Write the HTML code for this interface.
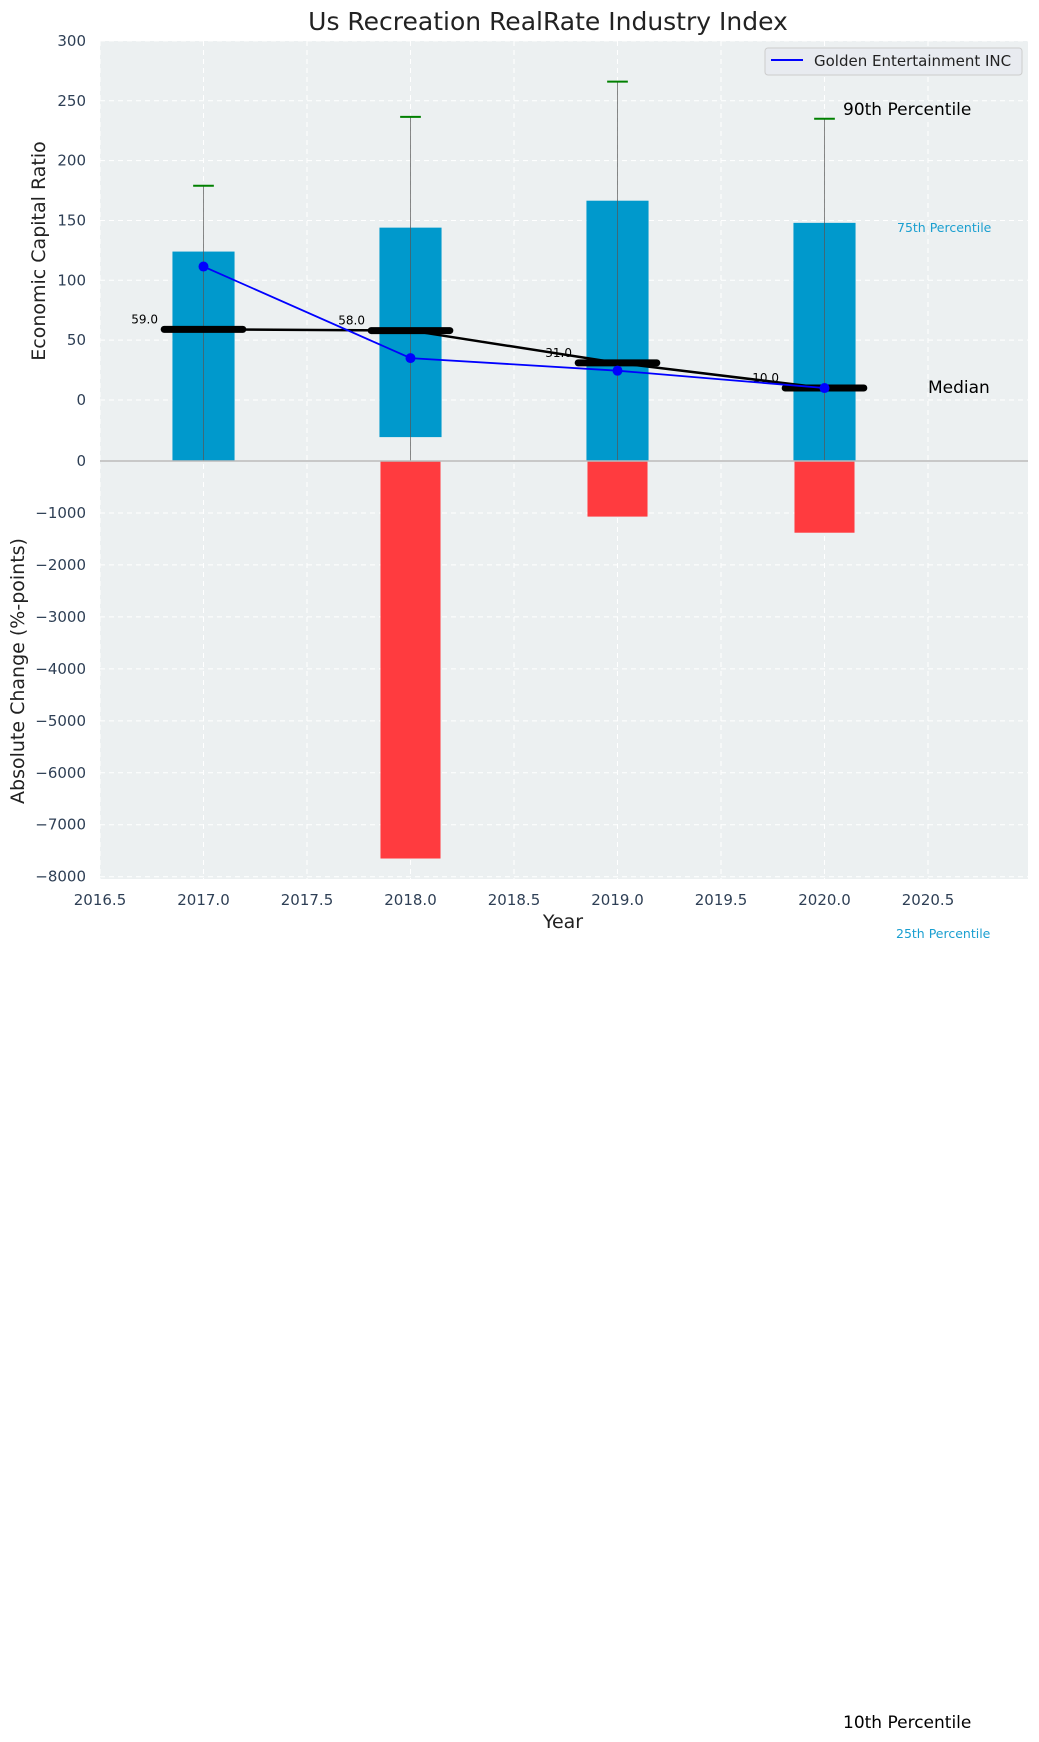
<!DOCTYPE html>
<html><head><meta charset="utf-8"><style>
body{margin:0;background:#fff}
svg{display:block;font-family:"DejaVu Sans","Liberation Sans",sans-serif}
</style></head><body>
<svg id="chart" width="1039" height="1742" viewBox="0 0 1039 1742"></svg>
<script>
const years=[2017,2018,2019,2020];
const q75=[124,144,166.5,148];
const q25=[-60,-31,-60,-60];
const p90=[179,236.5,266,235];
const medians=[59,58,31,10];
const company=[111.5,35,24.5,10];
const absChange=[0,-7650,-1070,-1380];
const xTicks=[2016.5,2017.0,2017.5,2018.0,2018.5,2019.0,2019.5,2020.0,2020.5];
const yTopTicks=[0,50,100,150,200,250,300];
const yBotTicks=[0,-1000,-2000,-3000,-4000,-5000,-6000,-7000,-8000];

const NS="http://www.w3.org/2000/svg";
const svg=document.getElementById('chart');
const L=100,R=1028,T1=41,B1=461,T2=461,B2=879;
const X=v=>L+(v-2016.5)*207;
const Y1=v=>400-v*1.197;
const Y2=v=>461-v*(415.7/8000);
function mk(tag,attrs,parent){const e=document.createElementNS(NS,tag);for(const k in attrs)e.setAttribute(k,attrs[k]);(parent||svg).appendChild(e);return e;}

const defs=mk('defs',{});
const c1=mk('clipPath',{id:'c1'},defs);mk('rect',{x:L,y:T1,width:R-L,height:B1-T1},c1);
const c2=mk('clipPath',{id:'c2'},defs);mk('rect',{x:L,y:T2,width:R-L,height:B2-T2},c2);

let e;
e=mk('rect',{x:L,y:T1,width:R-L,height:B2-T1,fill:'#ecf0f1'});



xTicks.forEach(t=>{e=mk('line',{x1:X(t),x2:X(t),y1:T1,y2:B2,stroke:'#fff','stroke-dasharray':'5,4','stroke-width':1});

});
yTopTicks.forEach(t=>{e=mk('line',{x1:L,x2:R,y1:Y1(t),y2:Y1(t),stroke:'#fff','stroke-dasharray':'5,4'});

});
yBotTicks.forEach(t=>{e=mk('line',{x1:L,x2:R,y1:Y2(t),y2:Y2(t),stroke:'#fff','stroke-dasharray':'5,4'});

});

const g1=mk('g',{'clip-path':'url(#c1)'});
const g2=mk('g',{'clip-path':'url(#c2)'});
years.forEach((yr,i)=>{
  e=mk('rect',{x:X(yr-0.15),y:Y1(q75[i]),width:X(yr+0.15)-X(yr-0.15),height:Y1(q25[i])-Y1(q75[i]),fill:'#0099cc'},g1);
  
  
  e=mk('line',{x1:X(yr),x2:X(yr),y1:Y1(p90[i]),y2:Y1(-60),stroke:'#555','stroke-opacity':0.7,'stroke-width':1},g1);
  
  
  e=mk('line',{x1:X(yr-0.05),x2:X(yr+0.05),y1:Y1(p90[i]),y2:Y1(p90[i]),stroke:'#008000','stroke-width':2},g1);
  
  
  if(absChange[i]<0){
    e=mk('rect',{x:X(yr-0.145),y:Y2(0),width:X(yr+0.145)-X(yr-0.145),height:Y2(absChange[i])-Y2(0),fill:'#ff3b3f'},g2);
    
    
  }
});
e=mk('line',{x1:L,x2:R,y1:B1,y2:B1,stroke:'#bbb','stroke-width':1.5});



e=mk('polyline',{points:years.map((y,i)=>X(y)+','+Y1(medians[i])).join(' '),fill:'none',stroke:'#000','stroke-width':2.5});


years.forEach((yr,i)=>{
  e=mk('line',{x1:X(yr-0.19),x2:X(yr+0.19),y1:Y1(medians[i]),y2:Y1(medians[i]),stroke:'#000','stroke-width':7,'stroke-linecap':'round'});
  
  
  e=mk('text',{x:X(yr-0.22),y:Y1(medians[i])-6,'font-size':12,'text-anchor':'end',fill:'#000'});
  e.textContent=medians[i].toFixed(1);
  
  
});
e=mk('polyline',{points:years.map((y,i)=>X(y)+','+Y1(company[i])).join(' '),fill:'none',stroke:'#0000ff','stroke-width':1.8});


years.forEach((yr,i)=>{e=mk('circle',{cx:X(yr),cy:Y1(company[i]),r:5,fill:'#0000ff'});

});

yTopTicks.forEach(t=>{e=mk('text',{x:L-14,y:Y1(t)+5,'font-size':15,'text-anchor':'end',fill:'#2e3f55'});e.textContent=t;

});
yBotTicks.forEach(t=>{e=mk('text',{x:L-14,y:Y2(t)+5,'font-size':15,'text-anchor':'end',fill:'#2e3f55'});e.textContent=t===0?'0':'\u2212'+Math.abs(t);

});
xTicks.forEach(t=>{e=mk('text',{x:X(t),y:905,'font-size':15,'text-anchor':'middle',fill:'#2e3f55'});e.textContent=t.toFixed(1);

});

function txt(name,x,y,s,size,fill,extra){e=mk('text',Object.assign({x:x,y:y,'font-size':size,fill:fill},extra||{}));e.textContent=s;

return e;}
txt('chart-title',548,30,'Us Recreation RealRate Industry Index',25,'#222',{'text-anchor':'middle'});
txt('y-top-axis-title',45,251,'Economic Capital Ratio',19,'#222',{'text-anchor':'middle',transform:'rotate(-90 45 251)'});
txt('y-bottom-axis-title',24,671,'Absolute Change (%-points)',19,'#222',{'text-anchor':'middle',transform:'rotate(-90 24 671)'});
txt('x-axis-title',563,928,'Year',19,'#222',{'text-anchor':'middle'});
txt('p90-annotation',843,115,'90th Percentile',17,'#000');
txt('p75-annotation',897,232,'75th Percentile',12.5,'#1a9fd0');
txt('median-annotation',928,393,'Median',17,'#000');
txt('p25-annotation',896,938,'25th Percentile',12.5,'#1a9fd0');
txt('p10-annotation',843,1728,'10th Percentile',17,'#000');

const lg=mk('g',{});


mk('rect',{x:765,y:48,width:257,height:27,rx:3,fill:'#e8ebf0',stroke:'#ccc'},lg);
mk('line',{x1:771,x2:803,y1:60,y2:60,stroke:'#0000ff','stroke-width':2},lg);
e=mk('text',{x:814,y:66,'font-size':15,fill:'#222'},lg);e.textContent='Golden Entertainment INC';


</script>
</body></html>
